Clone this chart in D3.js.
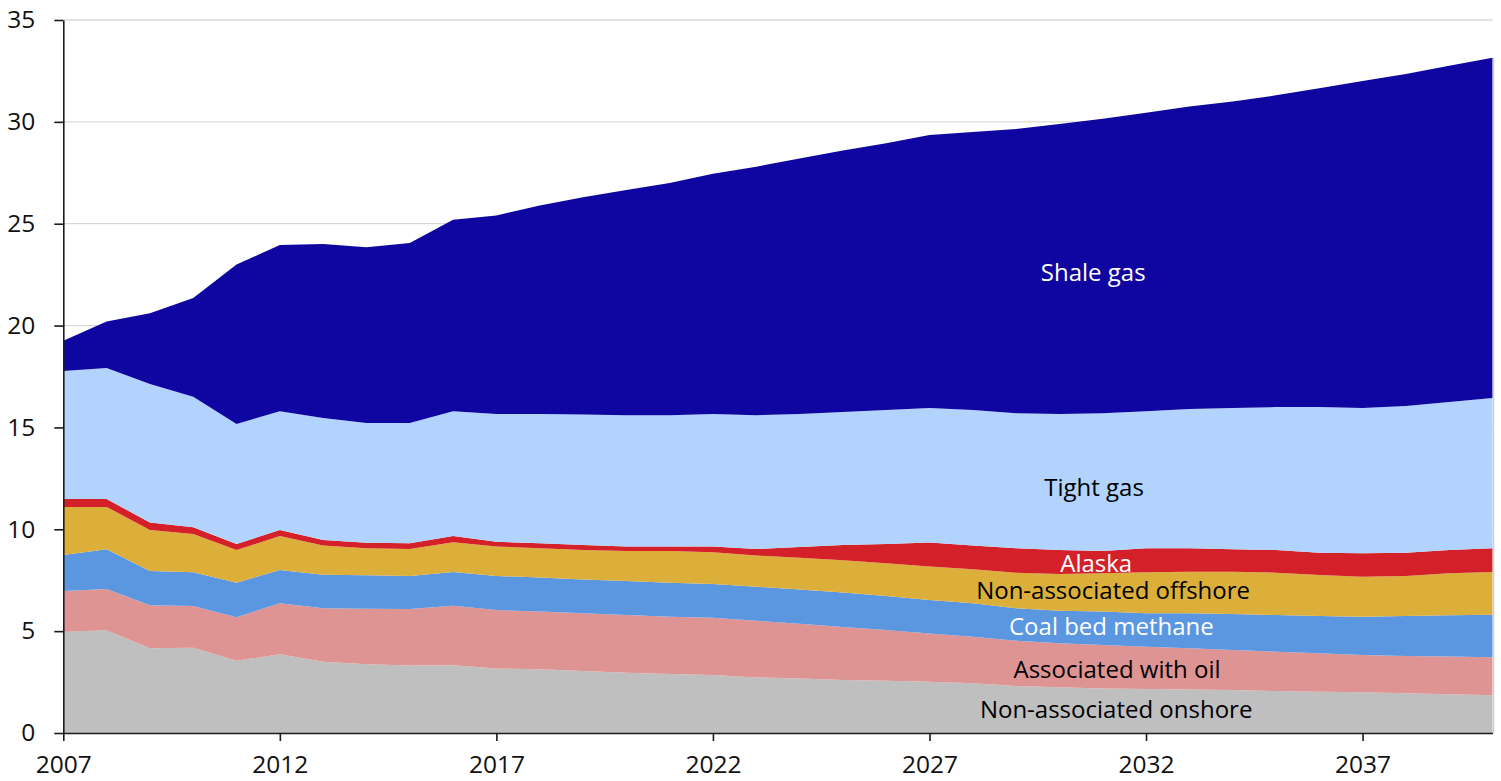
<!DOCTYPE html>
<html>
<head>
<meta charset="utf-8">
<title>US natural gas production by source</title>
<script src="https://d3js.org/d3.v7.min.js"></script>
<style>
  body { margin: 0; background: #fff; }
  svg { display: block; font-family: "Open Sans", Lato, sans-serif; }
  .grid line { stroke: #d9d9d9; stroke-width: 1.3; }
  .axis path, .axis line { stroke: #1a1a1a; stroke-width: 1.6; }
  .axis text { font-family: "Open Sans", Lato, sans-serif; font-size: 24.5px; fill: #111; }
  .lbl { font-size: 24px; }
</style>
</head>
<body>
<svg width="1501" height="781"></svg>
<script>
// data (trillion cubic feet)
var years = d3.range(2007, 2041);
var onshore  = [4.97,5.04,4.16,4.19,3.55,3.86,3.50,3.37,3.31,3.32,3.17,3.13,3.04,2.96,2.90,2.85,2.73,2.67,2.60,2.56,2.52,2.44,2.31,2.24,2.19,2.16,2.14,2.11,2.06,2.03,2.00,1.95,1.90,1.85];
var assocOil = [2.00,2.03,2.11,2.04,2.13,2.51,2.62,2.73,2.78,2.93,2.87,2.83,2.84,2.83,2.81,2.81,2.78,2.69,2.60,2.49,2.37,2.29,2.22,2.16,2.13,2.08,2.02,1.96,1.93,1.88,1.83,1.83,1.85,1.87];
var coalBed  = [1.77,1.95,1.68,1.66,1.70,1.63,1.65,1.64,1.62,1.65,1.67,1.67,1.66,1.67,1.67,1.65,1.67,1.69,1.70,1.67,1.64,1.64,1.59,1.60,1.64,1.64,1.72,1.77,1.80,1.83,1.88,1.96,2.03,2.09];
var offshore = [2.36,2.08,2.02,1.88,1.60,1.67,1.43,1.33,1.32,1.46,1.44,1.44,1.44,1.47,1.55,1.56,1.53,1.55,1.58,1.61,1.64,1.67,1.75,1.81,1.88,2.01,2.04,2.08,2.08,2.02,1.96,1.97,2.06,2.09];
var alaska   = [0.39,0.39,0.36,0.33,0.30,0.30,0.27,0.27,0.28,0.31,0.24,0.24,0.25,0.22,0.22,0.28,0.32,0.53,0.75,0.95,1.18,1.16,1.20,1.17,1.09,1.18,1.15,1.10,1.11,1.09,1.15,1.14,1.14,1.17];
var tight    = [6.28,6.43,6.80,6.40,5.89,5.83,5.99,5.88,5.91,6.13,6.27,6.35,6.41,6.45,6.45,6.51,6.57,6.53,6.53,6.58,6.60,6.66,6.63,6.68,6.77,6.73,6.83,6.93,7.02,7.15,7.13,7.20,7.27,7.38];
var shale    = [1.48,2.28,3.47,4.85,7.83,8.15,8.54,8.63,8.83,9.40,9.74,10.24,10.66,11.05,11.40,11.79,12.20,12.54,12.84,13.09,13.40,13.64,13.95,14.24,14.45,14.65,14.85,15.05,15.30,15.65,16.05,16.30,16.50,16.70];

var seriesNames = ["Non-associated onshore","Associated with oil","Coal bed methane","Non-associated offshore","Alaska","Tight gas","Shale gas"];
var seriesData  = [onshore, assocOil, coalBed, offshore, alaska, tight, shale];
var colors      = ["#bfbfbf","#df9494","#5b96e0","#dcaf3b","#d42129","#b1d3fe","#0f05a1"];
var xTicks = [2007, 2012, 2017, 2022, 2027, 2032, 2037];
var yTicks = [0, 5, 10, 15, 20, 25, 30, 35];

// label placement: [year, value] of the text baseline centre, plus text colour
var labelPos = [[2031.31, 0.72],[2031.33, 2.69],[2031.20, 4.81],[2031.24, 6.56],[2030.85, 7.92],[2030.80, 11.63],[2030.78, 22.19]];
var labelColor = ["#000","#000","#fff","#000","#fff","#000","#fff"];

var svg = d3.select("svg"),
    margin = {top: 20, right: 8.5, bottom: 48, left: 63.3},
    width = +svg.attr("width") - margin.left - margin.right,
    height = +svg.attr("height") - margin.top - margin.bottom;

var table = years.map(function(y, i) {
  var row = {year: y};
  seriesNames.forEach(function(n, k) { row[n] = seriesData[k][i]; });
  return row;
});

var x = d3.scaleLinear().domain([2007, 2040]).range([0, width]);
var y = d3.scaleLinear().domain([0, 35]).range([height, 0]);

var g = svg.append("g").attr("transform", "translate(" + margin.left + "," + margin.top + ")");

// gridlines
g.append("g").attr("class", "grid")
  .selectAll("line").data(yTicks.filter(function(d) { return d > 0; }))
  .enter().append("line")
  .attr("x1", 0).attr("x2", width)
  .attr("y1", function(d) { return y(d); }).attr("y2", function(d) { return y(d); });

var stack = d3.stack().keys(seriesNames);
var layers = stack(table);

var area = d3.area()
  .x(function(d) { return x(d.data.year); })
  .y0(function(d) { return y(d[0]); })
  .y1(function(d) { return y(d[1]); });

g.selectAll(".layer").data(layers)
  .enter().append("path")
  .attr("class", "layer")
  .attr("fill", function(d, i) { return colors[i]; })
  .attr("d", area);

// faint right edge shadow
g.append("line")
  .attr("x1", width + 1).attr("x2", width + 1)
  .attr("y1", y(d3.sum(seriesData, function(s) { return s[s.length - 1]; }))).attr("y2", height)
  .attr("stroke", "#cfcfcf").attr("stroke-width", 1.5);

// labels
g.selectAll(".lbl").data(seriesNames)
  .enter().append("text")
  .attr("class", "lbl")
  .attr("text-anchor", "middle")
  .attr("x", function(d, i) { return x(labelPos[i][0]); })
  .attr("y", function(d, i) { return y(labelPos[i][1]); })
  .attr("fill", function(d, i) { return labelColor[i]; })
  .text(function(d) { return d; });

// axes
g.append("g").attr("class", "axis")
  .attr("transform", "translate(0," + height + ")")
  .call(d3.axisBottom(x).tickValues(xTicks).tickFormat(d3.format("d")).tickSizeInner(8).tickSizeOuter(0).tickPadding(15));

g.append("g").attr("class", "axis")
  .call(d3.axisLeft(y).tickValues(yTicks).tickSizeInner(9).tickSizeOuter(0).tickPadding(19));
</script>
</body>
</html>
